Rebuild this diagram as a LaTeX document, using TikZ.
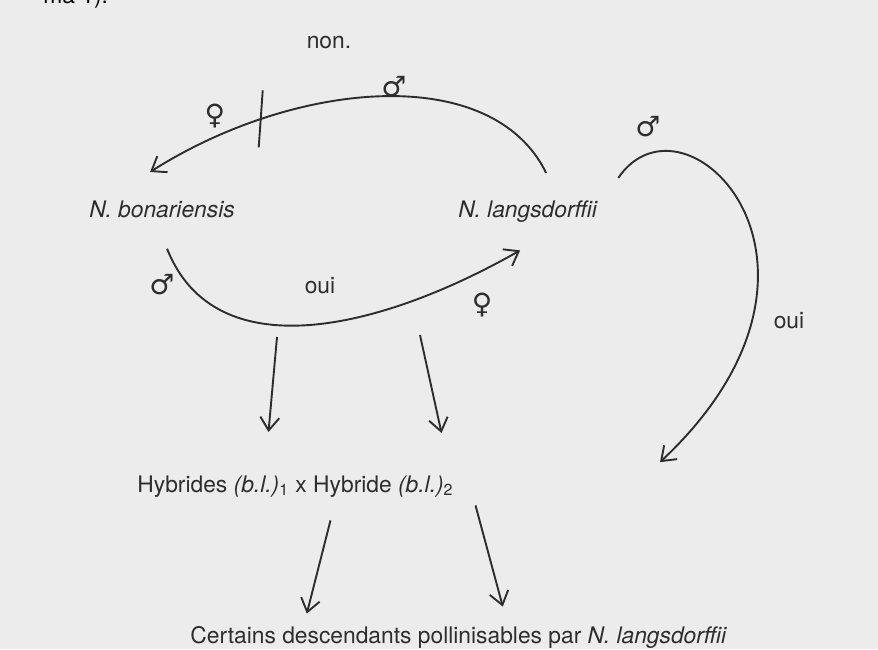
\documentclass[tikz,border=0pt]{standalone}
\usepackage{fontspec}
\setmainfont{TeX Gyre Heros}
\newfontfamily\symfont{DejaVu Sans}
\usetikzlibrary{arrows.meta, calc}
\definecolor{paper}{RGB}{236,236,236}
\definecolor{ink}{RGB}{45,45,45}

\begin{document}
\begin{tikzpicture}[x=0.5pt, y=-0.5pt,
  every node/.style={font=\fontsize{11.4}{13}\selectfont, text=ink, inner sep=0pt},
  sex/.style={font=\symfont\fontsize{14}{16}\selectfont},
  link/.style={draw=ink, line width=0.95pt, -{Straight Barb[length=6.5pt,width=9.5pt,line width=0.95pt]}},
  cutbar/.style={draw=ink, line width=0.95pt}]
  \fill[paper] (0,0) rectangle (878,649);
  \useasboundingbox (0,0) rectangle (878,649);

  % page text cut at the top
  \node[anchor=base west, text=black] (ma) at (43,3) {ma 1).};

  % the two species
  \node[anchor=base west] (bon) at (89,217) {\textit{N. bonariensis}};
  \node[anchor=base west] (lan) at (458,217) {\textit{N. langsdorffii}};

  % crossings
  \node[anchor=base] (non) at (329,48) {non.};
  \node[sex] (fb) at (215,116) {♀};
  \node[sex] (ml) at (394,87) {♂};
  \draw[link] ($(lan.north)+(18,-27)$) .. controls (492,62) and (295,80) ..
    coordinate[pos=0.76] (cut) ($(bon.north)+(-12,-28)$);
  \draw[cutbar] ($(cut)+(2,-29)$) -- ($(cut)+(-2,28)$);

  \node[sex] (mb) at (162,285) {♂};
  \node[anchor=base] (oui) at (320,293) {oui};
  \node[sex] (fl) at (482,305) {♀};
  \draw[link] ($(bon.south)+(5,31)$) .. controls (215,370) and (380,330) .. ($(lan.south)+(-8,28)$);

  % hybrids
  \node[anchor=base west] (hyb) at (137,492)
    {Hybrides \textit{(b.l.)}\textsubscript{1} x Hybride \textit{(b.l.)}\textsubscript{2}};
  \coordinate (x1) at (277,337);
  \coordinate (x2) at (420,335);
  \draw[link] (x1) -- ($(hyb.north)+(-27,-43)$);
  \draw[link] (x2) -- ($(hyb.north)+(146,-42)$);

  % backcross
  \node[sex] (mr) at (648,127) {♂};
  \node[anchor=base] (oui2) at (789,328) {oui};
  \draw[link] ($(lan.north east)+(20,-22)$) .. controls (685,80) and (870,265) .. ($(hyb.east)+(206,-24)$);

  % offspring
  \node[anchor=base west] (cert) at (190,643)
    {Certains descendants pollinisables par \textit{N. langsdorffii}};
  \draw[link] ($(hyb.south)+(35,23)$) -- ($(cert.north)+(-152,-12)$);
  \draw[link] ($(hyb.south)+(180,8)$) -- ($(cert.north)+(44,-19)$);
\end{tikzpicture}
\end{document}
